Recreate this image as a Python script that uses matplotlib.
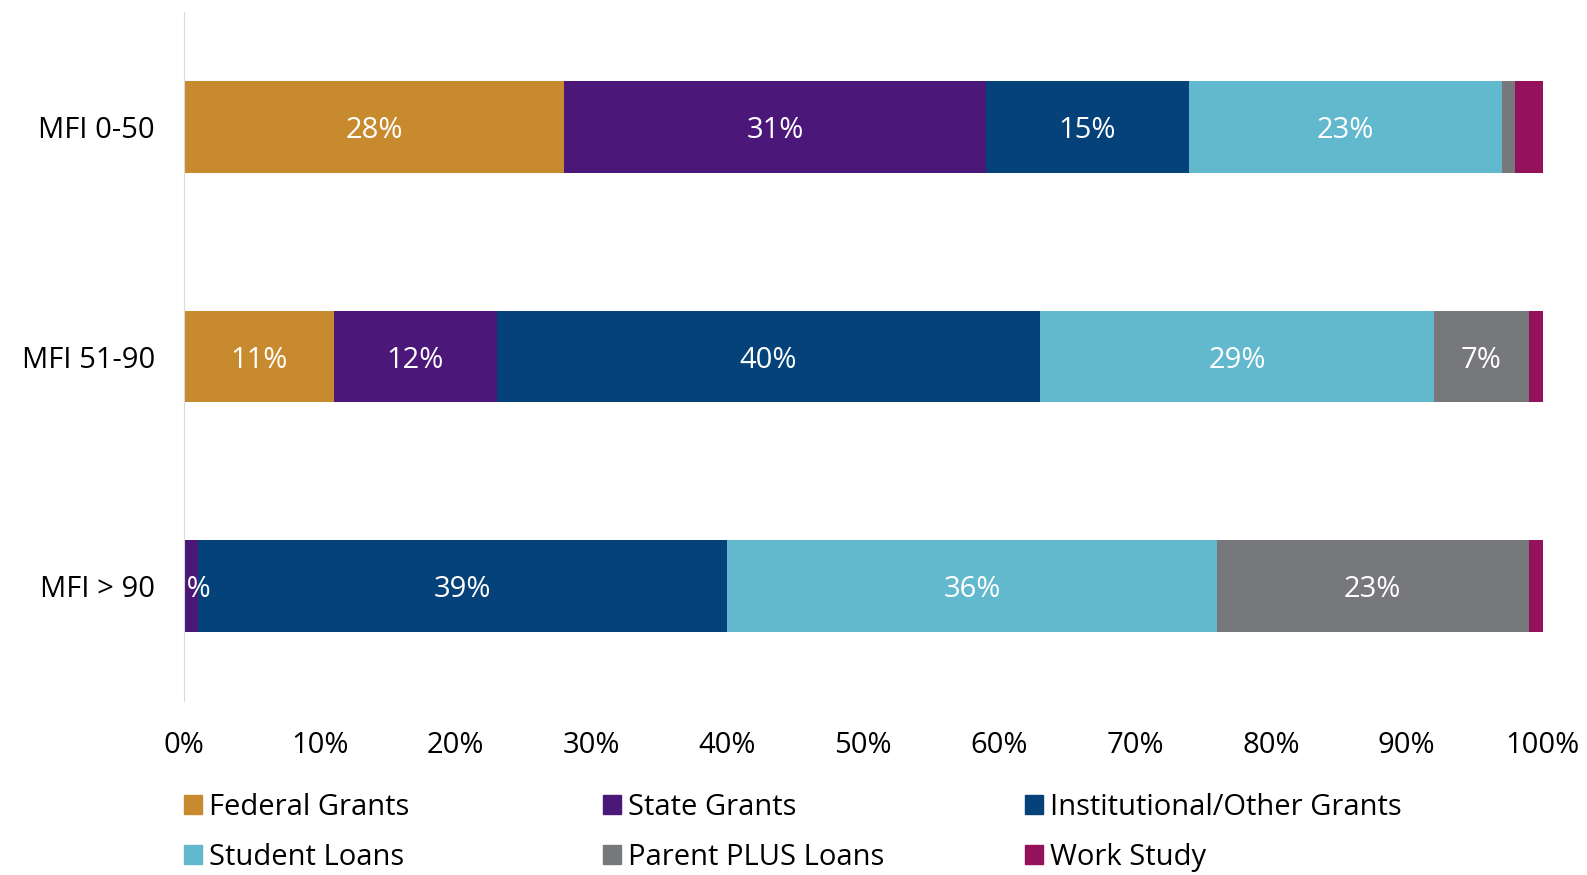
import numpy as np
import matplotlib.pyplot as plt
from matplotlib.patches import Patch

plt.rcParams['font.family'] = ['Open Sans', 'DejaVu Sans']

# Data
groups = ['MFI 0-50', 'MFI 51-90', 'MFI > 90']
series = ['Federal Grants', 'State Grants', 'Institutional/Other Grants',
          'Student Loans', 'Parent PLUS Loans', 'Work Study']
federal = [28, 11, 0]
state = [31, 12, 1]
institutional = [15, 40, 39]
student = [23, 29, 36]
parent = [1, 7, 23]
work = [2, 1, 1]
# which segments carry a label (small ones left blank as in the source)
show_label = [
    [True, True, True],
    [True, True, True],
    [True, True, True],
    [True, True, True],
    [False, True, True],
    [False, False, False],
]
colors = ['#C88A2E', '#4B1778', '#05427A', '#62B8CD', '#77787B', '#94115C']

values = [federal, state, institutional, student, parent, work]

fig = plt.figure(figsize=(15.87, 8.75), dpi=100)
ax = fig.add_axes([0.116, 0.199, 0.856, 0.787])

y = np.arange(len(groups))
left = np.zeros(len(groups))
for i, (name, vals) in enumerate(zip(series, values)):
    vals = np.array(vals, dtype=float)
    ax.barh(y, vals, left=left, height=0.4, color=colors[i], label=name)
    for j, v in enumerate(vals):
        if v > 0 and show_label[i][j]:
            ax.text(left[j] + v / 2, y[j], f'{v:.0f}%', ha='center', va='center_baseline',
                    color='white', fontsize=21, clip_on=False)
    left += vals

ax.set_xlim(0, 100)
ax.set_ylim(2.5, -0.5)
ax.set_yticks(y)
ax.set_yticklabels(groups, fontsize=21)
ax.set_xticks(np.arange(0, 101, 10))
ax.set_xticklabels([f'{t}%' for t in range(0, 101, 10)], fontsize=21)
ax.tick_params(length=0)
ax.tick_params(axis='x', pad=22)
ax.tick_params(axis='y', pad=21)
for s in ['top', 'right', 'bottom']:
    ax.spines[s].set_visible(False)
ax.spines['left'].set_color('#D9D9D9')

handles = [Patch(color=c, label=s) for c, s in zip(colors, series)]
xs = [0.116, 0.380, 0.646]
for k in range(3):
    fig.legend([handles[k], handles[k + 3]], [series[k], series[k + 3]],
               loc='upper left', bbox_to_anchor=(xs[k], 0.094), frameon=False,
               fontsize=21, handlelength=0.6, handleheight=0.6, handletextpad=0.25,
               labelspacing=0.72, borderaxespad=0, borderpad=0)

fig.savefig('out.png', dpi=100)
